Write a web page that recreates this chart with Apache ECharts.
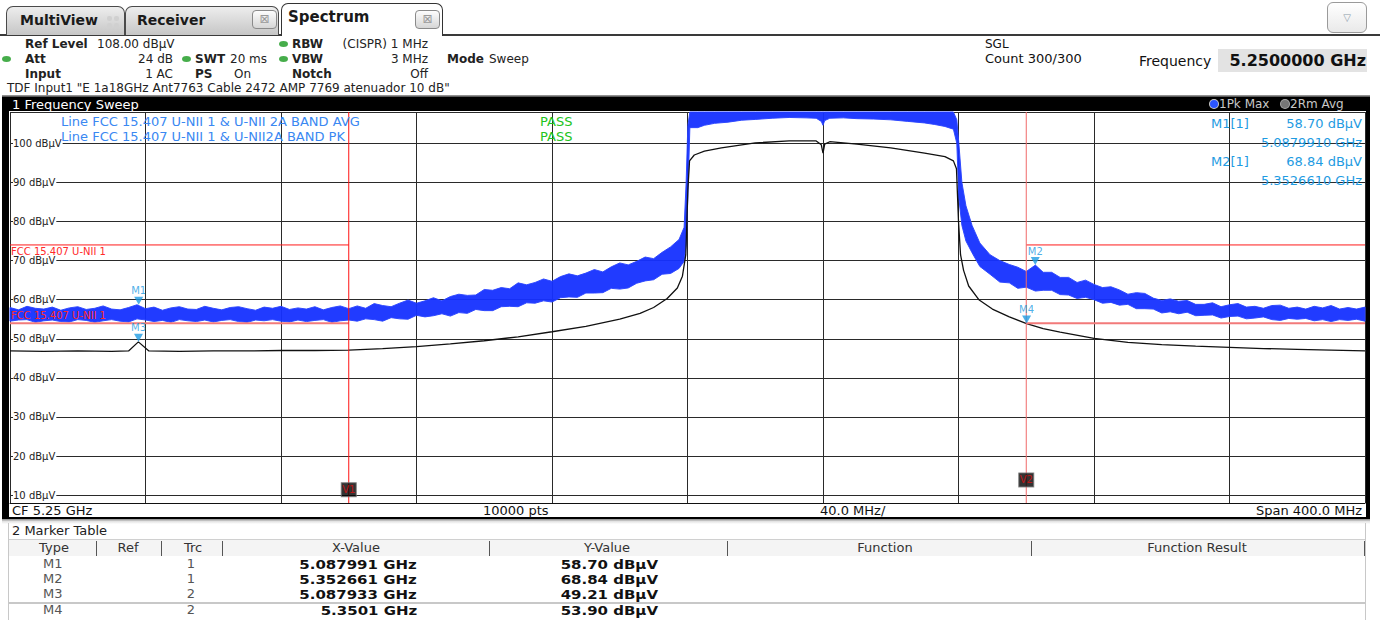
<!DOCTYPE html>
<html>
<head>
<meta charset="utf-8">
<title>Spectrum – Frequency Sweep</title>
<script src="https://cdn.jsdelivr.net/npm/echarts@6.0.0/dist/echarts.min.js"></script>
<style>
  html, body { margin: 0; padding: 0; }
  body { width: 1380px; height: 620px; overflow: hidden; background: #fff; position: relative;
         font-family: "DejaVu Sans", Verdana, sans-serif; color: #222; }
  .a { position: absolute; white-space: nowrap; }
  .tab { position: absolute; box-sizing: border-box; border: 1px solid #4a4a4a; border-bottom: none;
         border-radius: 7px 7px 0 0; background: linear-gradient(#ededed, #c6c6c6);
         font-weight: bold; font-size: 14px; color: #1a1a1a; }
  .xbtn { position: absolute; box-sizing: border-box; width: 25px; height: 19px; border: 1px solid #8a8a8a;
          border-radius: 4px; background: linear-gradient(#fdfdfd, #d6d6d6); color: #9a9a9a;
          font-size: 12px; line-height: 17px; text-align: center; font-weight: normal; }
  .info { font-size: 12px; line-height: 14px; color: #222; }
  .b { font-weight: bold; }
  .dot { position: absolute; width: 9px; height: 6px; border-radius: 50%; background: #46ad4b; }
  .plottxt { font-size: 13px; line-height: 16px; }
  .hdr { font-size: 13px; line-height: 16px; color: #333; text-align: center; }
  .sep { position: absolute; width: 1px; background: #555; top: 541px; height: 15px; }
  .row { font-size: 13px; line-height: 14px; color: #555; }
  .val { font-size: 14px; line-height: 14px; font-weight: bold; color: #111;
         transform: scale(1.07, 0.9); transform-origin: 100% 50%; }
</style>
</head>
<body>

<!-- tab strip -->
<div class="a" style="left:0;top:34px;width:1380px;height:2px;background:#3a3a3a;"></div>
<div class="tab" style="left:6px;top:6px;width:119px;height:29px;">
  <span class="a" style="left:13px;top:5px;">MultiView</span>
  <span class="a" style="left:100px;top:9px;width:5px;height:5px;border-radius:2px;background:#d0d0d0;"></span>
  <span class="a" style="left:107px;top:9px;width:5px;height:5px;border-radius:2px;background:#d0d0d0;"></span>
  <span class="a" style="left:100px;top:16px;width:5px;height:5px;border-radius:2px;background:#d0d0d0;"></span>
  <span class="a" style="left:107px;top:16px;width:5px;height:5px;border-radius:2px;background:#d0d0d0;"></span>
</div>
<div class="tab" style="left:125px;top:6px;width:154px;height:29px;">
  <span class="a" style="left:11px;top:5px;">Receiver</span>
  <div class="xbtn" style="left:126px;top:3px;">⊠</div>
</div>
<div class="tab" style="left:281px;top:3px;width:162px;height:33px;background:#fff;border-color:#333;z-index:2;">
  <span class="a" style="left:6px;top:4px;font-size:15px;">Spectrum</span>
  <div class="xbtn" style="left:133px;top:6px;">⊠</div>
</div>
<div class="a" style="left:1327px;top:2px;width:40px;height:31px;box-sizing:border-box;border:1px solid #9a9a9a;border-radius:6px;background:linear-gradient(#ffffff,#e9e9e9);color:#8a9aaa;font-size:10px;line-height:29px;text-align:center;">▽</div>

<!-- setting summary -->
<span class="a info b" style="left:25px;top:37px;">Ref Level</span>
<span class="a info" style="left:97px;top:37px;">108.00 dBµV</span>
<div class="dot" style="left:279px;top:41px;"></div>
<span class="a info b" style="left:292px;top:37px;">RBW</span>
<span class="a info" style="right:952px;top:37px;">(CISPR) 1 MHz</span>

<div class="dot" style="left:2px;top:56px;"></div>
<span class="a info b" style="left:25px;top:52px;">Att</span>
<span class="a info" style="right:1207px;top:52px;">24 dB</span>
<div class="dot" style="left:182px;top:56px;"></div>
<span class="a info b" style="left:195px;top:52px;">SWT</span>
<span class="a info" style="left:230px;top:52px;">20 ms</span>
<div class="dot" style="left:279px;top:56px;"></div>
<span class="a info b" style="left:292px;top:52px;">VBW</span>
<span class="a info" style="right:952px;top:52px;">3 MHz</span>
<span class="a info b" style="left:447px;top:52px;">Mode</span>
<span class="a info" style="left:489px;top:52px;">Sweep</span>

<span class="a info b" style="left:25px;top:67px;">Input</span>
<span class="a info" style="right:1207px;top:67px;">1 AC</span>
<span class="a info b" style="left:195px;top:67px;">PS</span>
<span class="a info" style="left:234px;top:67px;">On</span>
<span class="a info b" style="left:292px;top:67px;">Notch</span>
<span class="a info" style="right:952px;top:67px;">Off</span>

<span class="a info" style="left:7px;top:81px;">TDF Input1 "E 1a18GHz Ant7763 Cable 2472 AMP 7769 atenuador 10 dB"</span>

<span class="a info" style="left:985px;top:37px;font-size:12px;color:#111;">SGL</span>
<span class="a info" style="left:985px;top:52px;font-size:13px;color:#111;">Count 300/300</span>
<span class="a" style="left:1139px;top:52px;font-size:14px;line-height:18px;color:#111;">Frequency</span>
<div class="a" style="left:1218px;top:49px;width:149px;height:23px;background:#e3e3e3;"></div>
<span class="a" style="right:14px;top:51px;font-size:16px;line-height:19px;font-weight:bold;color:#111;">5.2500000 GHz</span>

<!-- window title bar -->
<div class="a" style="left:2px;top:95px;width:1368px;height:2px;background:linear-gradient(#aaa,#444);"></div>
<div class="a" style="left:2px;top:97px;width:1368px;height:15px;background:#000;"></div>
<span class="a" style="left:12px;top:97px;font-size:13px;line-height:15px;color:#fff;">1 Frequency Sweep</span>
<span class="a" style="left:1210px;top:100px;width:8px;height:8px;border-radius:50%;background:#2b55ff;box-shadow:0 0 0 1px #ccc;"></span>
<span class="a" style="left:1219px;top:97px;font-size:12px;line-height:15px;color:#c8c8c8;">1Pk Max</span>
<span class="a" style="left:1281px;top:100px;width:8px;height:8px;border-radius:50%;background:#777;box-shadow:0 0 0 1px #aaa;"></span>
<span class="a" style="left:1290px;top:97px;font-size:12px;line-height:15px;color:#c8c8c8;">2Rm Avg</span>

<!-- diagram frame -->
<div id="plot" class="a" style="left:9px;top:111px;width:1357px;height:393px;"></div>
<div class="a" style="left:2px;top:112px;width:7px;height:407px;background:#000;"></div>
<div class="a" style="left:1366px;top:112px;width:4px;height:407px;background:#000;"></div>
<div class="a" style="left:2px;top:517px;width:1368px;height:2px;background:#000;"></div>

<span class="a" style="left:12px;top:503px;font-size:13px;line-height:15px;color:#111;">CF 5.25 GHz</span>
<span class="a" style="left:483px;top:503px;font-size:13px;line-height:15px;color:#111;">10000 pts</span>
<span class="a" style="left:820px;top:503px;font-size:13px;line-height:15px;color:#111;">40.0 MHz/</span>
<span class="a" style="right:18px;top:503px;font-size:13px;line-height:15px;color:#111;">Span 400.0 MHz</span>

<!-- texts drawn over the diagram -->
<span class="a plottxt" style="left:61px;top:114px;color:#3a88f2;">Line FCC 15.407 U-NII 1 &amp; U-NII 2A BAND AVG</span>
<span class="a plottxt" style="left:61px;top:129px;color:#3a88f2;">Line FCC 15.407 U-NII 1 &amp; U-NII2A BAND PK</span>
<span class="a plottxt" style="left:540px;top:114px;color:#22c422;">PASS</span>
<span class="a plottxt" style="left:540px;top:129px;color:#22c422;">PASS</span>
<div id="mkinfo"></div>

<!-- marker table -->
<div class="a" style="left:2px;top:519px;width:1368px;height:5px;background:linear-gradient(#8a8a8a,#e4e4e4,#fff);"></div>
<div class="a" style="left:8px;top:523px;width:1px;height:97px;background:#c8c8c8;"></div>
<div class="a" style="left:1365px;top:523px;width:1px;height:97px;background:#c8c8c8;"></div>
<span class="a" style="left:12px;top:523px;font-size:13px;line-height:16px;color:#222;">2 Marker Table</span>
<div class="a" style="left:9px;top:539px;width:1356px;height:1px;background:#d0d0d0;"></div>
<div class="a" style="left:9px;top:540px;width:1356px;height:16px;background:#f4f4f4;"></div>
<div id="mtable"></div>

<script>
// ---- sweep settings (MHz / dBµV) ----
const F_START = 5050, F_STOP = 5450, F_DIV = 40;
const LEVEL_BOTTOM = 8, LEVEL_REF = 108;

// ---- trace 1: Pk Max, lower and upper edge of the noisy trace ----
const PK_FREQ = [
  // below the band
  5050, 5052.5, 5055, 5057.5, 5060, 5062.5, 5065, 5067.5, 5070, 5072.5, 5075, 5077.5, 5080, 5082.5, 5085, 5087.5, 5090, 5092.5, 5095, 5097.5,
  5100, 5102.5, 5105, 5107.5, 5110, 5112.5, 5115, 5117.5, 5120, 5122.5, 5125, 5127.5, 5130, 5132.5, 5135, 5137.5, 5140, 5142.5, 5145, 5147.5, 5150,
  // lower skirt
  5152.5, 5155, 5157.5, 5160, 5162.5, 5165, 5167.5, 5170, 5172.5, 5175, 5177.5, 5180, 5182.5, 5185, 5187.5, 5190, 5192.5, 5195, 5197.5, 5200,
  5202.5, 5205, 5207.5, 5210, 5212.5, 5215, 5217.5, 5220, 5222.5, 5225, 5227.5, 5230, 5232.5, 5235, 5237.5, 5240, 5242.5, 5245, 5247.5,
  5249, 5249.6, 5250.1, 5250.7,
  // channel
  5253, 5255, 5258, 5262, 5266, 5270, 5275, 5280, 5285, 5288, 5289.5, 5290, 5290.5, 5292, 5296, 5300, 5305, 5310, 5315, 5320, 5323, 5326, 5328.5, 5329.5,
  // upper skirt
  5330.1, 5331, 5332.2, 5334, 5336.3, 5339.3, 5342.2, 5345,
  5347.5, 5350, 5352.7, 5355, 5357.5, 5360, 5362.5, 5365, 5367.5, 5370, 5372.5, 5375,
  5377.5, 5380, 5382.5, 5385, 5387.5, 5390, 5392.5, 5395, 5397.5, 5400, 5402.5, 5405, 5407.5, 5410, 5412.5, 5415, 5417.5, 5420, 5422.5, 5425,
  5427.5, 5430, 5432.5, 5435, 5437.5, 5440, 5442.5, 5445, 5447.5, 5450
];
const PK_HIGH = [
  58.0, 57.4, 58.3, 57.8, 57.6, 58.1, 57.3, 57.9, 58.2, 57.5, 57.8, 58.4, 57.6, 57.4, 58.0, 58.7, 57.7, 58.1, 57.3, 57.9,
  58.2, 57.6, 57.5, 58.3, 57.8, 57.4, 58.0, 58.2, 57.7, 57.3, 58.1, 57.8, 58.3, 57.5, 57.9, 57.6, 58.2, 57.4, 58.0, 58.4, 57.7,
  58.4, 57.8, 59.0, 58.5, 58.2, 59.1, 59.9, 59.1, 59.7, 60.5, 59.7, 60.8, 61.4, 61.1, 61.2, 62.6, 62.4, 63.1, 62.8, 64.3,
  63.8, 64.4, 65.3, 64.7, 65.9, 66.6, 66.1, 66.8, 67.7, 67.1, 68.4, 69.4, 68.9, 69.8, 70.9, 70.5, 72.1, 73.5, 75.4,
  78.5, 90.0, 104.5, 108.5,
  108.5, 108.5, 108.5, 108.5, 108.5, 108.5, 108.5, 108.5, 108.5, 108.5, 108.5, 108.5, 108.5, 108.5, 108.5, 108.5, 108.5, 108.5, 108.5, 108.5, 108.5, 108.5, 108.0, 106.0,
  100.0, 90.0, 84.0, 79.0, 74.5, 71.5, 70.0, 69.0,
  68.3, 67.2, 68.84, 67.0, 67.0, 65.7, 65.7, 64.4, 65.0, 63.9, 63.1, 63.3,
  62.5, 61.4, 61.8, 61.6, 60.4, 59.8, 60.2, 59.6, 59.8, 58.8, 58.8, 59.2, 58.2, 58.7, 59.0, 58.1, 58.3, 57.8, 58.5, 58.6,
  57.8, 58.1, 57.6, 58.3, 57.9, 58.5, 57.6, 58.0, 57.6, 58.1
];
const PK_LOW = [
  54.5, 54.8, 54.9, 54.2, 54.6, 54.8, 54.4, 54.3, 54.9, 54.7, 54.2, 54.6, 54.9, 54.5, 54.3, 55.1, 54.8, 54.4, 54.7, 54.2,
  54.9, 54.6, 54.4, 54.8, 54.3, 54.7, 54.9, 54.4, 54.2, 54.8, 54.6, 54.9, 54.5, 54.3, 54.8, 54.4, 54.7, 54.9, 54.2, 54.6, 54.8,
  54.5, 55.1, 54.9, 54.5, 55.4, 55.1, 55.0, 56.0, 55.6, 55.9, 56.4, 55.8, 56.7, 56.5, 57.5, 57.2, 57.2, 58.2, 58.3, 58.2,
  59.2, 59.1, 59.7, 59.4, 60.5, 60.7, 60.6, 61.7, 61.7, 61.8, 62.9, 62.7, 63.0, 64.2, 64.8, 65.1, 66.5, 66.7, 68.0,
  69.8, 74.0, 86.0, 104.0,
  104.0, 104.6, 105.1, 105.4, 105.9, 106.1, 106.4, 106.6, 106.5, 106.4, 105.6, 104.6, 105.8, 106.4, 106.5, 106.3, 106.2, 106.0, 105.6, 105.2, 104.8, 104.3, 103.6, 100.0,
  86.0, 79.0, 75.0, 72.0, 68.5, 66.5, 64.5, 64.3,
  62.9, 63.2, 62.2, 62.4, 62.4, 61.3, 61.2, 60.3, 60.6, 60.0, 59.1, 59.3,
  58.6, 58.8, 57.7, 57.7, 57.6, 56.6, 56.9, 56.4, 56.8, 55.9, 56.0, 56.1, 55.3, 55.7, 55.8, 55.1, 55.3, 55.6, 54.9, 54.7,
  55.2, 55.0, 55.2, 54.6, 54.9, 54.4, 54.9, 54.7, 55.0, 54.5
];

// ---- trace 2: RMS Avg ----
const AV_FREQ = [
  5050, 5060, 5070, 5080, 5085, 5087.9, 5091, 5100, 5110, 5120, 5130, 5140, 5150, 5160, 5170, 5180, 5190, 5200, 5210, 5220, 5230, 5236, 5240, 5244, 5247, 5248.5, 5249.5, 5250.1, 5250.6,
  5252, 5255, 5260, 5270, 5280, 5288, 5289.5, 5290, 5290.5, 5292, 5300, 5310, 5320, 5326, 5328.5, 5329.4,
  5330, 5330.6, 5331.5, 5333, 5336, 5340, 5345, 5350.1, 5355, 5360, 5370, 5380, 5390, 5400, 5410, 5420, 5430, 5440, 5450
];
const AV_LEVEL = [
  46.9, 46.8, 46.9, 46.8, 46.9, 49.21, 46.9, 46.8, 46.9, 46.9, 47.0, 47.0, 47.1, 47.5, 48.0, 48.7, 49.5, 50.5, 51.8, 53.2, 55.0, 56.5, 58.0, 60.3, 63.0, 66.0, 71.5, 88.0, 95.5,
  97.0, 98.0, 98.8, 100.1, 100.6, 100.6, 99.6, 97.5, 99.8, 100.4, 99.8, 98.8, 97.5, 96.6, 95.5, 93.5,
  80.0, 71.5, 67.5, 63.5, 60.0, 57.6, 55.6, 53.90, 52.6, 51.7, 50.1, 49.1, 48.5, 48.1, 47.8, 47.5, 47.3, 47.1, 46.9
];

// ---- limit lines and display lines ----
const LIMIT_RANGES = [[5050, 5150], [5350, 5450]];
const LIMIT_PK = 74;
const LIMIT_AV = 54;
const LIMIT_NAME = 'FCC 15.407 U-NII 1';
const DISPLAY_LINES = [5150, 5350];
const DISPLAY_NAMES = ['V1', 'V2'];
const DISPLAY_TAG_LEVEL = [11.4, 13.9];

// ---- markers ----
const MARKER_NAMES = ['M1', 'M2', 'M3', 'M4'];
const MARKER_TRACE = [1, 1, 2, 2];
const MARKER_X_GHZ = ['5.087991', '5.352661', '5.087933', '5.3501'];
const MARKER_LEVEL = [58.70, 68.84, 49.21, 53.90];

const BLUE = '#1530ff';
const MARK_BLUE = '#1e9be2';

const off = f => +(f - F_START).toFixed(3);

// marker readout in the diagram (trace 1 markers)
(function () {
  const box = document.getElementById('mkinfo');
  let html = '';
  const ys = [[116, 135], [154, 173]];
  [0, 1].forEach((i, k) => {
    const fGHz = parseFloat(MARKER_X_GHZ[i]).toFixed(7);
    html += `<span class="a plottxt" style="left:1211px;top:${ys[k][0]}px;color:${MARK_BLUE};">${MARKER_NAMES[i]}[${MARKER_TRACE[i]}]</span>`;
    html += `<span class="a plottxt" style="right:18px;top:${ys[k][0]}px;color:${MARK_BLUE};">${MARKER_LEVEL[i].toFixed(2)} dBµV</span>`;
    html += `<span class="a plottxt" style="right:18px;top:${ys[k][1]}px;color:${MARK_BLUE};">${fGHz} GHz</span>`;
  });
  box.innerHTML = html;
})();

// marker table
(function () {
  const box = document.getElementById('mtable');
  const heads = [['Type', 54], ['Ref', 128], ['Trc', 193], ['X-Value', 356], ['Y-Value', 607], ['Function', 885], ['Function Result', 1197]];
  const seps = [96, 161, 222, 489, 727, 1031, 1364];
  let html = '';
  heads.forEach(([t, cx]) => {
    html += `<span class="a hdr" style="left:${cx - 100}px;width:200px;top:540px;">${t}</span>`;
  });
  seps.forEach(x => { html += `<div class="sep" style="left:${x}px;"></div>`; });
  const rowY = [557, 572, 587, 603];
  html += `<div class="a" style="left:9px;top:602px;width:1356px;height:2px;background:#c8c8c8;"></div>`;
  MARKER_NAMES.forEach((m, i) => {
    const y = rowY[i];
    html += `<span class="a row" style="left:43px;top:${y}px;">${m}</span>`;
    html += `<span class="a row" style="left:171px;width:40px;text-align:center;top:${y}px;">${MARKER_TRACE[i]}</span>`;
    html += `<span class="a val" style="right:${1380 - 417}px;top:${y}px;">${MARKER_X_GHZ[i]} GHz</span>`;
    html += `<span class="a val" style="right:${1380 - 658}px;top:${y}px;">${MARKER_LEVEL[i].toFixed(2)} dBµV</span>`;
  });
  box.innerHTML = html;
})();

// ---- diagram ----
const chart = echarts.init(document.getElementById('plot'), null, { renderer: 'svg' });

const series = [];

// Pk Max trace drawn as the band between its lower and upper edge
series.push({
  type: 'custom', name: '1Pk Max', silent: true, z: 3,
  data: [[0, LEVEL_BOTTOM]],
  renderItem: (params, api) => {
    const upper = PK_FREQ.map((f, i) => api.coord([off(f), Math.min(PK_HIGH[i], LEVEL_REF)]));
    const lower = PK_FREQ.map((f, i) => api.coord([off(f), PK_LOW[i]])).reverse();
    return {
      type: 'polygon',
      shape: { points: upper.concat(lower) },
      style: { fill: BLUE, stroke: '#2a44ff', lineWidth: 1, opacity: 0.95 }
    };
  }
});

// RMS average trace
series.push({
  type: 'line', name: '2Rm Avg', symbol: 'none', silent: true, z: 4,
  lineStyle: { color: '#111', width: 1.3 },
  data: AV_FREQ.map((f, i) => [off(f), AV_LEVEL[i]])
});

// limit lines
LIMIT_RANGES.forEach(([a, b]) => {
  series.push({
    type: 'line', symbol: 'none', silent: true, z: 5,
    lineStyle: { color: '#ff1a1a', width: 1 },
    data: [[off(a), LIMIT_PK], [off(b), LIMIT_PK]]
  });
  series.push({
    type: 'line', symbol: 'none', silent: true, z: 5,
    lineStyle: { color: '#f27a7a', width: 2 },
    data: [[off(a), LIMIT_AV], [off(b), LIMIT_AV]]
  });
});

// display lines V1 / V2
DISPLAY_LINES.forEach((f, i) => {
  series.push({
    type: 'line', symbol: 'none', silent: true, z: 6,
    lineStyle: { color: i === 0 ? '#ff1010' : '#f06a6a', width: 1 },
    data: [[off(f), LEVEL_BOTTOM], [off(f), LEVEL_REF]]
  });
});
series.push({
  type: 'scatter', silent: true, z: 7,
  symbol: 'rect', symbolSize: [15, 14],
  itemStyle: { color: '#000', borderColor: '#777', borderWidth: 1 },
  label: { show: true, position: 'inside', color: '#e01010', fontSize: 10, fontFamily: 'DejaVu Sans',
           formatter: p => DISPLAY_NAMES[p.dataIndex] },
  data: DISPLAY_LINES.map((f, i) => [off(f), DISPLAY_TAG_LEVEL[i]])
});

// markers
series.push({
  type: 'scatter', silent: true, z: 8,
  symbol: 'triangle', symbolRotate: 180, symbolSize: [9, 8], symbolOffset: [0, -4],
  itemStyle: { color: MARK_BLUE },
  label: { show: true, position: 'top', distance: 1, color: MARK_BLUE, fontSize: 10, fontFamily: 'DejaVu Sans',
           formatter: p => MARKER_NAMES[p.dataIndex] },
  data: MARKER_X_GHZ.map((g, i) => [off(parseFloat(g) * 1000), MARKER_LEVEL[i]])
});

chart.setOption({
  animation: false,
  backgroundColor: '#fff',
  textStyle: { fontFamily: 'DejaVu Sans' },
  grid: { left: 1, right: 1, top: 1, bottom: 1, containLabel: false, outerBoundsMode: 'none' },
  xAxis: {
    type: 'value', min: 0, max: F_STOP - F_START, interval: F_DIV,
    axisLine: { show: true, onZero: false, lineStyle: { color: '#111', width: 1 } },
    axisTick: { show: false }, axisLabel: { show: false },
    splitLine: { show: true, lineStyle: { color: '#2a2a2a', width: 1 } }
  },
  yAxis: {
    type: 'value', min: LEVEL_BOTTOM, max: LEVEL_REF, splitNumber: 10,
    axisLine: { show: false }, axisTick: { show: false },
    splitLine: { show: true, lineStyle: { color: '#2a2a2a', width: 1 } },
    axisLabel: {
      inside: true, margin: 3, showMinLabel: false, showMaxLabel: false,
      color: '#222', fontSize: 10, fontFamily: 'DejaVu Sans',
      backgroundColor: '#fff', padding: [0, 1, 0, 0],
      formatter: v => (v % 10 === 0 ? v + ' dBµV' : '')
    }
  },
  series
});

// limit line names, placed at the start of the lower-frequency limit segments
const pPk = chart.convertToPixel({ gridIndex: 0 }, [0, LIMIT_PK]);
const pAv = chart.convertToPixel({ gridIndex: 0 }, [0, LIMIT_AV]);
chart.setOption({
  graphic: [
    { type: 'text', left: pPk[0] + 1, top: pPk[1] + 2, z: 20, silent: true,
      style: { text: LIMIT_NAME, fill: '#ff2a2a', font: '10px "DejaVu Sans"' } },
    { type: 'text', left: pAv[0] + 1, top: pAv[1] - 13, z: 20, silent: true,
      style: { text: LIMIT_NAME, fill: '#ff2a2a', font: '10px "DejaVu Sans"' } }
  ]
});
</script>
</body>
</html>
